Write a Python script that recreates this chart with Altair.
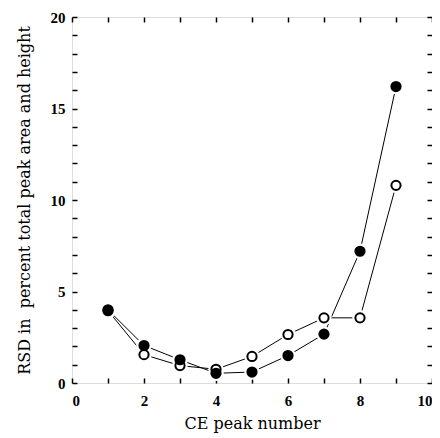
import altair as alt
import pandas as pd

peak = [1, 2, 3, 4, 5, 6, 7, 8, 9]
filled_rsd = [4.0, 2.05, 1.27, 0.53, 0.6, 1.5, 2.67, 7.2, 16.2]
open_rsd = [3.95, 1.55, 0.95, 0.75, 1.45, 2.65, 3.56, 3.56, 10.8]
series_names = ["open", "filled"]
x_ticks = list(range(0, 11))
y_ticks = list(range(0, 21))

rows = []
for name, vals in zip(series_names, [open_rsd, filled_rsd]):
    for p, v in zip(peak, vals):
        rows.append({"peak": p, "rsd": v, "series": name})
df = pd.DataFrame(rows)

LFONT = "Liberation Serif"
TFONT = "DejaVu Serif"
xscale = alt.Scale(domain=[0, 10], nice=False)
yscale = alt.Scale(domain=[0, 20], nice=False)
inward = {"expr": "-5"}

x_bottom = alt.Axis(orient="bottom", values=x_ticks, tickSize=inward, labelPadding=15,
                    labelExpr="datum.value % 2 == 0 ? datum.label : ''",
                    domain=False, grid=False, tickColor="black", tickWidth=1.5,
                    labelFont=LFONT, labelFontSize=15, labelFontWeight="bold", labelColor="black",
                    title="CE peak number", titleFont=TFONT, titleFontSize=16,
                    titleFontWeight="normal", titleColor="black", titlePadding=7)
y_left = alt.Axis(orient="left", values=y_ticks, tickSize=inward, labelPadding=12,
                  labelExpr="datum.value % 5 == 0 ? datum.label : ''",
                  domain=False, grid=False, tickColor="black", tickWidth=1.5,
                  labelFont=LFONT, labelFontSize=15, labelFontWeight="bold", labelColor="black",
                  title="RSD in\u00a0 percent total peak area and height", titleFont=TFONT,
                  titleFontSize=16, titleFontWeight="normal", titleColor="black",
                  titlePadding=18)
x_top = alt.Axis(orient="top", values=x_ticks, tickSize=inward, labels=False,
                 domain=False, grid=False, tickColor="black", tickWidth=1.5, title=None)
y_right = alt.Axis(orient="right", values=y_ticks, tickSize=inward, labels=False,
                   domain=False, grid=False, tickColor="black", tickWidth=1.5, title=None)

base = alt.Chart(df)

lines = base.mark_line(color="black", strokeWidth=1).encode(
    x=alt.X("peak:Q", scale=xscale, axis=x_bottom),
    y=alt.Y("rsd:Q", scale=yscale, axis=y_left),
    detail="series:N",
)

halo = base.mark_point(filled=True, color="white", size=240, opacity=1, shape="circle").encode(
    x=alt.X("peak:Q", scale=xscale, axis=x_top),
    y=alt.Y("rsd:Q", scale=yscale, axis=y_right),
)

markers = base.mark_point(shape="circle", size=85, strokeWidth=2, opacity=1).encode(
    x=alt.X("peak:Q", scale=xscale, axis=None),
    y=alt.Y("rsd:Q", scale=yscale, axis=None),
    fill=alt.Fill("series:N", scale=alt.Scale(domain=series_names, range=["white", "black"]), legend=None),
    stroke=alt.value("black"),
    order=alt.Order("series:N", sort="descending"),
)

chart = alt.layer(lines, halo, markers).resolve_axis(x="independent", y="independent").properties(
    width=360, height=366,
    autosize=alt.AutoSizeParams(type="none"),
    padding={"left": 64, "top": 9, "right": 0, "bottom": 52},
).configure_view(stroke="black", strokeWidth=2).configure(background="white")

chart.save("out.html", embed_options={"renderer": "svg", "actions": False})
